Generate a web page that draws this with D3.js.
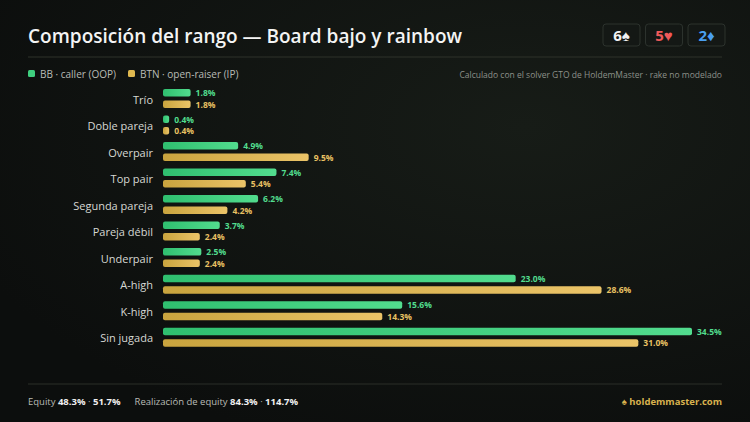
<!DOCTYPE html>
<html>
<head>
<meta charset="utf-8">
<script src="https://cdn.jsdelivr.net/npm/d3@7"></script>
<style>
  body { margin:0; background:#0f1210; font-family:"Open Sans", "Noto Sans", sans-serif; }
  svg { display:block; }
</style>
</head>
<body>
<script>
var categories = ["Trío","Doble pareja","Overpair","Top pair","Segunda pareja","Pareja débil","Underpair","A-high","K-high","Sin jugada"];
var bbValues  = [1.8, 0.4, 4.9, 7.4, 6.2, 3.7, 2.5, 23.0, 15.6, 34.5];
var btnValues = [1.8, 0.4, 9.5, 5.4, 4.2, 2.4, 2.4, 28.6, 14.3, 31.0];
var seriesNames = ["BB · caller (OOP)", "BTN · open-raiser (IP)"];
var cards = [{t:"6♠", c:"#f2f2f2"}, {t:"5♥", c:"#ef5a5a"}, {t:"2♦", c:"#4a9ff0"}];

var W = 750, H = 422;
var svg = d3.select("body").append("svg").attr("width", W).attr("height", H);

var defs = svg.append("defs");
var bg = defs.append("radialGradient").attr("id","bg").attr("cx","70%").attr("cy","30%").attr("r","80%");
bg.append("stop").attr("offset","0%").attr("stop-color","#171c17");
bg.append("stop").attr("offset","100%").attr("stop-color","#0c0e0d");
var gG = defs.append("linearGradient").attr("id","gG");
gG.append("stop").attr("offset","0%").attr("stop-color","#2fbf6f");
gG.append("stop").attr("offset","100%").attr("stop-color","#52dc8e");
var gY = defs.append("linearGradient").attr("id","gY");
gY.append("stop").attr("offset","0%").attr("stop-color","#c9a43e");
gY.append("stop").attr("offset","100%").attr("stop-color","#ebc468");
svg.append("rect").attr("width",W).attr("height",H).attr("fill","url(#bg)");

// title + cards
svg.append("text").attr("x",28).attr("y",43).attr("fill","#f4f4f4")
  .attr("font-size",19).attr("font-weight",600).attr("textLength",434).text("Composición del rango — Board bajo y rainbow");
var cg = svg.selectAll("g.card").data(cards).enter().append("g")
  .attr("transform", function(d,i){ return "translate(" + (603 + i*42.5) + ",24)"; });
cg.append("rect").attr("width",37).attr("height",22).attr("rx",3)
  .attr("fill","#141815").attr("stroke","#2c322d");
cg.append("text").attr("x",18.5).attr("y",16.5).attr("text-anchor","middle")
  .attr("font-size",15).attr("font-weight",700).attr("fill",function(d){return d.c;}).text(function(d){return d.t;});
svg.append("line").attr("x1",28).attr("x2",722).attr("y1",57).attr("y2",57).attr("stroke","#2e332b");

// legend
var lg = svg.selectAll("g.leg").data(seriesNames).enter().append("g")
  .attr("transform", function(d,i){ return "translate(" + (28 + i*100) + ",70)"; });
lg.append("rect").attr("width",7).attr("height",7).attr("rx",1.5)
  .attr("fill", function(d,i){ return i ? "#e0b94f" : "#3fcf7f"; });
lg.append("text").attr("x",12).attr("y",7.5).attr("font-size",10).attr("fill","#b9bcb6").text(function(d){return d;});
svg.append("text").attr("x",722).attr("y",78).attr("text-anchor","end").attr("font-size",8.5)
  .attr("fill","#8d918a").text("Calculado con el solver GTO de HoldemMaster · rake no modelado");

// scales
var x = d3.scaleLinear().domain([0, 34.5]).range([163, 692]);
var y = d3.scaleBand().domain(categories).range([88, 350]).paddingInner(0.12).paddingOuter(0);
var bh = 7.5;

svg.append("g").selectAll("text").data(categories).enter().append("text")
  .attr("x",153).attr("y", function(d){ return y(d) + y.bandwidth()/2 + 4; })
  .attr("text-anchor","end").attr("font-size",11).attr("fill","#d6d8d3").text(function(d){return d;});

var series = [{vals:bbValues, fill:"url(#gG)", lab:"#52dc8e", off:1},
              {vals:btnValues, fill:"url(#gY)", lab:"#e8c163", off:12.5}];
series.forEach(function(s){
  var g = svg.append("g");
  g.selectAll("rect").data(categories).enter().append("rect")
    .attr("x", x(0)).attr("y", function(d){ return y(d) + s.off; })
    .attr("width", function(d,i){ return Math.max(5, x(s.vals[i]) - x(0)); })
    .attr("height", bh).attr("rx",2).attr("fill", s.fill);
  g.selectAll("text").data(categories).enter().append("text")
    .attr("x", function(d,i){ return Math.max(x(0)+5, x(s.vals[i])) + 5; })
    .attr("y", function(d){ return y(d) + s.off + bh - 0.5; })
    .attr("font-size",8.5).attr("font-weight",700).attr("fill", s.lab)
    .text(function(d,i){ return s.vals[i].toFixed(1) + "%"; });
});

// footer
svg.append("line").attr("x1",28).attr("x2",722).attr("y1",384).attr("y2",384).attr("stroke","#2a2f29");
var ft = svg.append("text").attr("x",28).attr("y",405).attr("font-size",9.5).attr("fill","#b9bcb6");
ft.append("tspan").text("Equity ");
ft.append("tspan").attr("font-weight",700).attr("fill","#f0f0f0").text("48.3%");
ft.append("tspan").text(" · ");
ft.append("tspan").attr("font-weight",700).attr("fill","#f0f0f0").text("51.7%");
ft.append("tspan").attr("dx",14).text("Realización de equity ");
ft.append("tspan").attr("font-weight",700).attr("fill","#f0f0f0").text("84.3%");
ft.append("tspan").text(" · ");
ft.append("tspan").attr("font-weight",700).attr("fill","#f0f0f0").text("114.7%");
svg.append("text").attr("x",722).attr("y",405).attr("text-anchor","end").attr("font-size",9.5)
  .attr("font-weight",700).attr("fill","#d8b24e").text("♠ holdemmaster.com");
</script>
</body>
</html>
